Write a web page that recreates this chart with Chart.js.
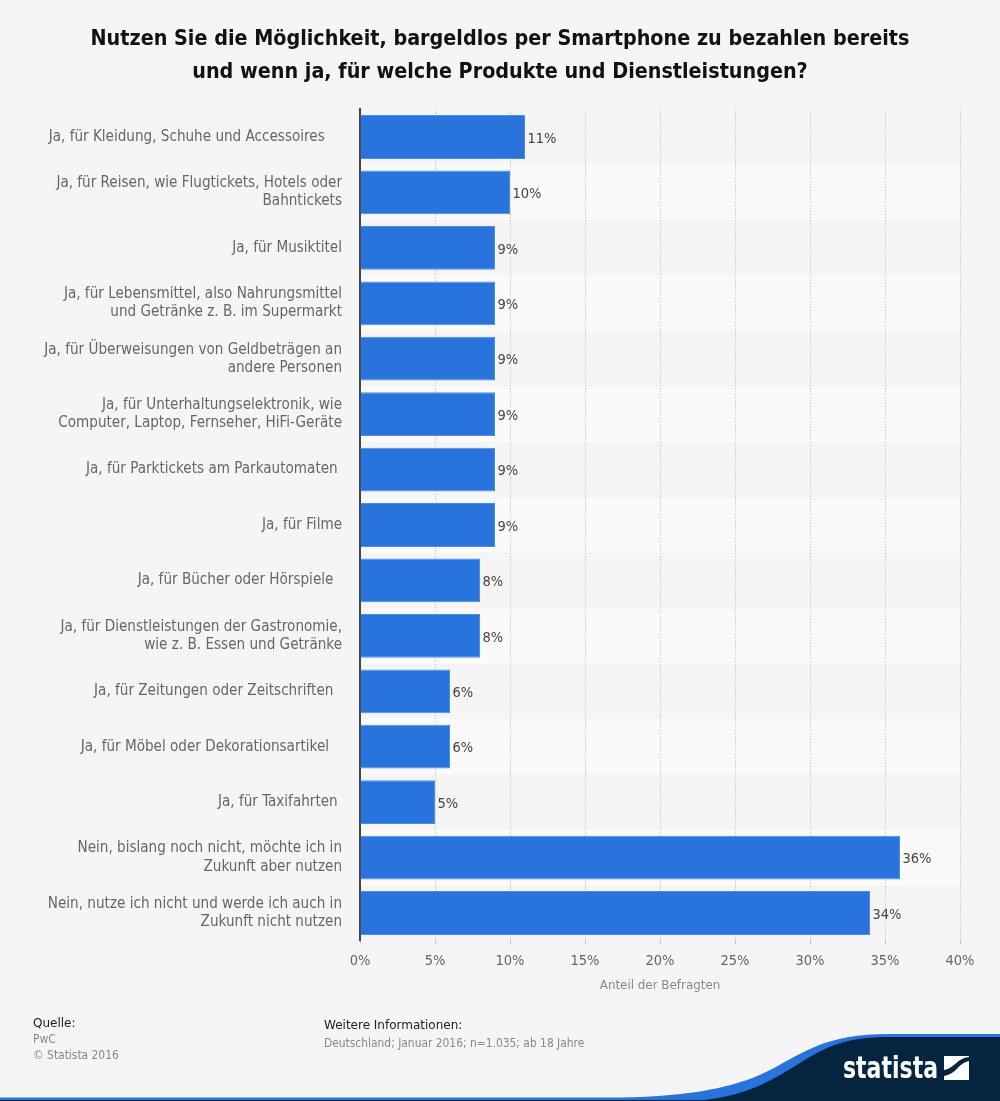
<!DOCTYPE html>
<html>
<head>
<meta charset="utf-8">
<title>Smartphone bezahlen</title>
<script src="https://cdn.jsdelivr.net/npm/chart.js@4"></script>
<style>
html, body { margin: 0; padding: 0; background: #f5f5f5; }
body { width: 1000px; height: 1101px; position: relative; overflow: hidden; font-family: 'DejaVu Sans Condensed', 'DejaVu Sans', sans-serif; }
#myChart { position: absolute; left: 0; top: 0; }
.txt { position: absolute; white-space: nowrap; font-size: 11.9px; line-height: 16px; color: #888; }
.dark { color: #222; font-size: 12px; font-family: 'DejaVu Sans', sans-serif; }
#title { position: absolute; left: 0; top: 21px; width: 1000px; text-align: center; font-size: 21.35px; line-height: 33px; font-weight: bold; color: #111; }
#logo { position: absolute; left: 0; top: 0; }
</style>
</head>
<body>
<canvas id="myChart" width="1000" height="1101"></canvas>
<div id="title">Nutzen Sie die Möglichkeit, bargeldlos per Smartphone zu bezahlen bereits<br>und wenn ja, für welche Produkte und Dienstleistungen?</div>
<div class="txt dark" style="left:33px;top:1015px">Quelle:</div>
<div class="txt" style="left:33px;top:1031px">PwC</div>
<div class="txt" style="left:33px;top:1047px">© Statista 2016</div>
<div class="txt dark" style="left:324px;top:1017px">Weitere Informationen:</div>
<div class="txt" style="left:324px;top:1035px">Deutschland; Januar 2016; n=1.035; ab 18 Jahre</div>
<svg id="logo" width="1000" height="1101">
  <path d="M0 1097.500 L620 1097.500 C700 1096 740 1085 770 1070 C805 1052 825 1034 890 1034 L1000 1034 L1000 1101 L0 1101 Z" fill="#2874dc"/>
  <path d="M690 1101 C740 1098 765 1085 800 1063 C825 1047 845 1037 890 1037 L1000 1037 L1000 1101 Z" fill="#04243f"/>
  <rect x="0" y="1100" width="1000" height="1" fill="#04243f"/>
  <text x="843" y="1078" font-family="'DejaVu Sans Condensed', 'DejaVu Sans'" font-weight="bold" font-size="30" fill="#fff" textLength="95" lengthAdjust="spacingAndGlyphs">statista</text>
  <path d="M944 1056 L969 1056 L969 1057 C957 1058 955 1068 944 1070 Z" fill="#fff"/>
  <path d="M969 1061 C958 1063 957 1074 944 1076 L944 1080 L969 1080 Z" fill="#fff"/>
</svg>
<script>
// Werte
const categories = [
  'Ja, für Kleidung, Schuhe und Accessoires    ',
  ['Ja, für Reisen, wie Flugtickets, Hotels oder', 'Bahntickets'],
  'Ja, für Musiktitel',
  ['Ja, für Lebensmittel, also Nahrungsmittel', 'und Getränke z. B. im Supermarkt'],
  ['Ja, für Überweisungen von Geldbeträgen an', 'andere Personen'],
  ['Ja, für Unterhaltungselektronik, wie', 'Computer, Laptop, Fernseher, HiFi-Geräte'],
  'Ja, für Parktickets am Parkautomaten ',
  'Ja, für Filme',
  'Ja, für Bücher oder Hörspiele  ',
  ['Ja, für Dienstleistungen der Gastronomie,', 'wie z. B. Essen und Getränke'],
  'Ja, für Zeitungen oder Zeitschriften  ',
  'Ja, für Möbel oder Dekorationsartikel   ',
  'Ja, für Taxifahrten ',
  ['Nein, bislang noch nicht, möchte ich in', 'Zukunft aber nutzen'],
  ['Nein, nutze ich nicht und werde ich auch in', 'Zukunft nicht nutzen']
];
const shares = [11, 10, 9, 9, 9, 9, 9, 9, 8, 8, 6, 6, 5, 36, 34];
const xTicks = [0, 5, 10, 15, 20, 25, 30, 35, 40];
const axisTitle = 'Anteil der Befragten';

const fontName = "'DejaVu Sans Condensed', 'DejaVu Sans', sans-serif";

// helle Streifen hinter jeder zweiten Zeile
const bandPlugin = {
  id: 'bands',
  beforeDraw(chart) {
    const y = chart.scales.y, area = chart.chartArea, c = chart.ctx;
    const h = y.getPixelForValue(1) - y.getPixelForValue(0);
    c.save();
    c.fillStyle = '#fafafa';
    categories.forEach((cat, i) => {
      if (i % 2 === 1) c.fillRect(area.left, y.getPixelForValue(i) - h / 2, area.right - area.left, h);
    });
    c.restore();
  }
};

// Prozentwerte neben den Balken
const valuePlugin = {
  id: 'values',
  afterDatasetsDraw(chart) {
    const c = chart.ctx;
    c.save();
    c.font = '14.5px ' + fontName;
    c.fillStyle = '#444';
    c.textAlign = 'left';
    c.textBaseline = 'middle';
    chart.getDatasetMeta(0).data.forEach((bar, i) => {
      c.fillText(shares[i] + '%', bar.x + 2.5, bar.y + 2);
    });
    c.restore();
  }
};

const ctx = document.getElementById('myChart').getContext('2d');
const myChart = new Chart(ctx, {
  type: 'bar',
  data: {
    labels: categories,
    datasets: [{
      data: shares,
      backgroundColor: '#2874dc',
      borderColor: '#4a8ee2',
      borderWidth: 1,
      barPercentage: 0.79,
      categoryPercentage: 1
    }]
  },
  plugins: [bandPlugin, valuePlugin],
  options: {
    indexAxis: 'y',
    responsive: false,
    animation: false,
    layout: { padding: { top: 109.3, right: 40, bottom: 98.3, left: 0 } },
    plugins: { legend: { display: false }, tooltip: { enabled: false }, title: { display: false } },
    scales: {
      x: {
        min: 0,
        max: 40,
        afterBuildTicks(scale) { scale.ticks = xTicks.map(v => ({ value: v })); },
        afterFit(scale) { scale.height = 62; },
        border: { display: false, dash: [1, 2] },
        grid: { color: '#b8b8b8', tickLength: 3, tickColor: '#b8b8b8', drawOnChartArea: true },
        ticks: {
          padding: 9,
          maxRotation: 0,
          autoSkip: false,
          color: '#666',
          font: { family: fontName, size: 14.5 },
          callback: v => v + '%'
        },
        title: {
          display: true,
          text: axisTitle,
          color: '#888',
          font: { family: "'DejaVu Sans', sans-serif", size: 11.9 },
          padding: { top: 0, bottom: 10 }
        }
      },
      y: {
        afterFit(scale) { scale.width = 360; },
        border: { color: '#444', width: 2 },
        grid: { display: false, drawTicks: false },
        ticks: {
          padding: 18,
          autoSkip: false,
          color: '#666',
          font: { family: fontName, size: 15.1, lineHeight: 1.2 }
        }
      }
    }
  }
});
</script>
</body>
</html>
